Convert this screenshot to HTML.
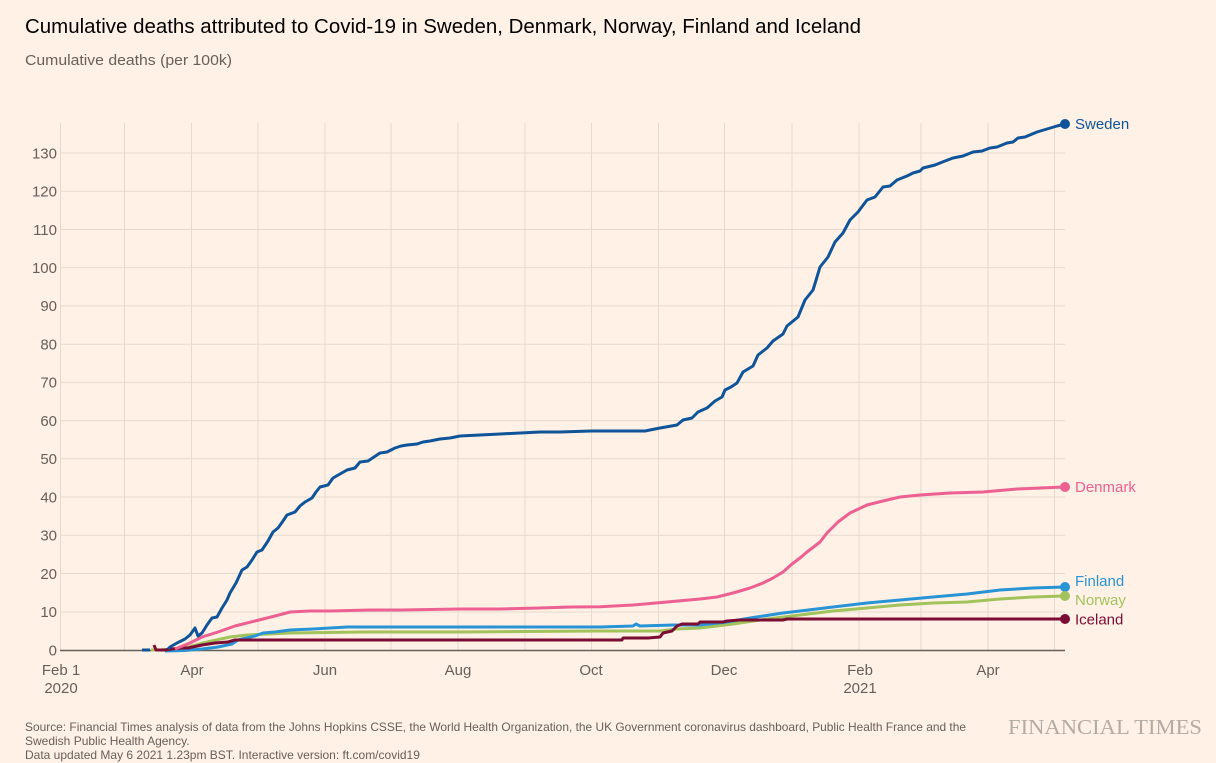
<!DOCTYPE html>
<html>
<head>
<meta charset="utf-8">
<style>
html,body{margin:0;padding:0;background:#fff1e5;}
svg{display:block;}
text{font-family:"Liberation Sans",sans-serif;}
</style>
</head>
<body>
<svg width="1216" height="763" viewBox="0 0 1216 763" xmlns="http://www.w3.org/2000/svg">
<rect width="1216" height="763" fill="#fff1e5"/>
<text x="25" y="33" font-size="20" fill="#000" textLength="836" lengthAdjust="spacingAndGlyphs">Cumulative deaths attributed to Covid-19 in Sweden, Denmark, Norway, Finland and Iceland</text>
<text x="25" y="65" font-size="15" fill="#66605c" textLength="207" lengthAdjust="spacingAndGlyphs">Cumulative deaths (per 100k)</text>

<g stroke="#e6d9ce" stroke-width="1">
<line x1="60" y1="612" x2="1065" y2="612"/>
<line x1="60" y1="573.5" x2="1065" y2="573.5"/>
<line x1="60" y1="535.3" x2="1065" y2="535.3"/>
<line x1="60" y1="497" x2="1065" y2="497"/>
<line x1="60" y1="458.8" x2="1065" y2="458.8"/>
<line x1="60" y1="420.6" x2="1065" y2="420.6"/>
<line x1="60" y1="382.4" x2="1065" y2="382.4"/>
<line x1="60" y1="344.2" x2="1065" y2="344.2"/>
<line x1="60" y1="305.9" x2="1065" y2="305.9"/>
<line x1="60" y1="267.7" x2="1065" y2="267.7"/>
<line x1="60" y1="229.5" x2="1065" y2="229.5"/>
<line x1="60" y1="191.3" x2="1065" y2="191.3"/>
<line x1="60" y1="153" x2="1065" y2="153"/>
<line x1="60.5" y1="123" x2="60.5" y2="650"/>
<line x1="124.5" y1="123" x2="124.5" y2="650"/>
<line x1="191.5" y1="123" x2="191.5" y2="650"/>
<line x1="258" y1="123" x2="258" y2="650"/>
<line x1="325" y1="123" x2="325" y2="650"/>
<line x1="391" y1="123" x2="391" y2="650"/>
<line x1="458" y1="123" x2="458" y2="650"/>
<line x1="525" y1="123" x2="525" y2="650"/>
<line x1="591.5" y1="123" x2="591.5" y2="650"/>
<line x1="658.5" y1="123" x2="658.5" y2="650"/>
<line x1="724.5" y1="123" x2="724.5" y2="650"/>
<line x1="792" y1="123" x2="792" y2="650"/>
<line x1="859" y1="123" x2="859" y2="650"/>
<line x1="921" y1="123" x2="921" y2="650"/>
<line x1="988" y1="123" x2="988" y2="650"/>
<line x1="1054.5" y1="123" x2="1054.5" y2="650"/>
</g>
<line x1="60" y1="650.5" x2="1065" y2="650.5" stroke="#66605c" stroke-width="1.5"/>

<g font-size="15" fill="#66605c" text-anchor="end">
<text x="57" y="655.5">0</text>
<text x="57" y="617">10</text>
<text x="57" y="578.8">20</text>
<text x="57" y="540.6">30</text>
<text x="57" y="502.3">40</text>
<text x="57" y="464.1">50</text>
<text x="57" y="425.9">60</text>
<text x="57" y="387.7">70</text>
<text x="57" y="349.5">80</text>
<text x="57" y="311.2">90</text>
<text x="57" y="273">100</text>
<text x="57" y="234.8">110</text>
<text x="57" y="196.6">120</text>
<text x="57" y="158.3">130</text>
</g>
<g font-size="15" fill="#66605c" text-anchor="middle">
<text x="61" y="675">Feb 1</text>
<text x="61" y="693">2020</text>
<text x="192" y="675">Apr</text>
<text x="325" y="675">Jun</text>
<text x="458" y="675">Aug</text>
<text x="591" y="675">Oct</text>
<text x="724" y="675">Dec</text>
<text x="860" y="675">Feb</text>
<text x="860" y="693">2021</text>
<text x="988" y="675">Apr</text>
</g>

<g fill="none" stroke-width="3" stroke-linejoin="round" stroke-linecap="butt">
<polyline stroke="#a2c25b" points="151,650 155,650"/>
<polyline stroke="#a2c25b" points="160,650 185,648 207,642 230,637 247,635 290,633 363,632 460,632 600,631 660,631 677,629 700,628 733,624 767,619 800,615 833,611 867,608 900,605 933,603 967,602 1000,599 1033,597 1064,596"/>
<polyline stroke="#2894d6" points="165,651 185,650.5 202,649 218,647 232,644 238,640 255,636 263,633 275,632 290,630 313,629 347,627 400,627 460,627 600,627 633,626 636,624 640,626 673,625 700,625 727,622 750,618 783,613 800,611 833,607 867,603 900,600 933,597 967,594 1000,590 1033,588 1064,587"/>
<polyline stroke="#7b0c34" points="154,645 156,650 165,650 172,649 182,648 188,648 202,645 215,643 228,642 235,640 300,640 622,640 623,638 648,638 660,637 663,633 672,631 677,626 682,624 698,624 700,622 723,622 727,621 740,620 783,620 787,619 1064,619"/>
<polyline stroke="#ed6092" points="175,649 185,645 190,643 202,637 218,632 235,626 255,621 275,616 290,612 310,611 330,611 370,610 400,610 460,609 500,609 540,608 570,607 600,606.7 633,605 667,602 700,599 717,597 733,593 750,588 763,583 773,578 783,572 792,564 800,558 807,552 820,542 827,533 838,522 850,513 867,505 883,501 900,497 920,495 950,493 983,492 1017,489 1064,487"/>
<polyline stroke="#0f5499" points="142,650 150,650"/>
<polyline stroke="#0f5499" points="168,649 170,647 177,643 185,639 190,635 195,628 198,636 202,633 207,625 212,618 217,617 222,608 227,600 230,593 236,583 242,570 247,567 252,560 257,552 262,550 268,541 273,532 278,528 283,521 287,515 295,512 300,506 305,502 312,498 316,492 320,487 328,485 333,478 340,474 347,470 355,468 360,462 368,461 374,457 380,453 387,452 395,448 401,446 407,445 417,444 423,442 430,441 440,439 450,438 460,436 480,435 500,434 520,433 540,432 560,432 591,431 620,431 645,431 660,428 677,425 683,420 692,418 698,412 707,408 715,401 722,397 725,390 731,387 737,383 743,372 753,366 758,355 767,348 773,341 783,334 787,326 798,317 805,300 813,290 817,277 820,267 828,257 835,242 843,233 850,220 858,212 867,200 875,197 883,187 890,186 897,180 907,176 913,173 920,171 923,168 935,165 945,161 953,158 963,156 973,152 982,151 990,148 997,147 1007,143 1013,142 1018,138 1025,137 1037,132 1047,129 1057,126 1065,124"/>
</g>

<circle cx="1065" cy="124" r="5" fill="#0f5499"/>
<circle cx="1065" cy="487" r="5" fill="#ed6092"/>
<circle cx="1065" cy="587" r="5" fill="#2894d6"/>
<circle cx="1065" cy="596" r="5" fill="#a2c25b"/>
<circle cx="1065" cy="619" r="5" fill="#7b0c34"/>
<g font-size="15">
<text x="1075" y="129" fill="#0f5499">Sweden</text>
<text x="1075" y="492" fill="#ed6092">Denmark</text>
<text x="1075" y="586" fill="#2894d6">Finland</text>
<text x="1075" y="605" fill="#a2c25b">Norway</text>
<text x="1075" y="624.5" fill="#7b0c34">Iceland</text>
</g>

<g font-size="12" fill="#66605c">
<text x="25" y="731" textLength="941" lengthAdjust="spacingAndGlyphs">Source: Financial Times analysis of data from the Johns Hopkins CSSE, the World Health Organization, the UK Government coronavirus dashboard, Public Health France and the</text>
<text x="25" y="745">Swedish Public Health Agency.</text>
<text x="25" y="759">Data updated May 6 2021 1.23pm BST. Interactive version: ft.com/covid19</text>
</g>
<text x="1008" y="734" style="font-family:'Liberation Serif',serif;" font-size="21" fill="#b3aba5" textLength="194" lengthAdjust="spacingAndGlyphs">FINANCIAL TIMES</text>
</svg>
</body>
</html>
